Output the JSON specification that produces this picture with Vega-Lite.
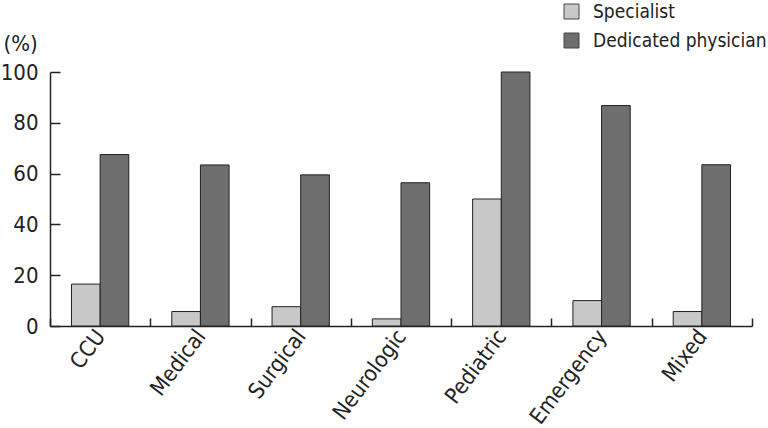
{
  "$schema": "https://vega.github.io/schema/vega-lite/v6.json",
  "width": 702,
  "height": 254,
  "autosize": {"type": "none"},
  "padding": {"left": 50, "top": 72, "right": 16, "bottom": 102},
  "background": "white",
  "config": {
    "view": {"stroke": null},
    "font": "DejaVu Sans Condensed, Roboto, sans-serif",
    "axis": {"domainColor": "#222", "tickColor": "#222", "labelColor": "#222", "titleColor": "#222", "grid": false}
  },
  "data": {
    "values": [
      {"unit": "CCU", "type": "Specialist", "pct": 16.5},
      {"unit": "CCU", "type": "Dedicated physician", "pct": 67.5},
      {"unit": "Medical", "type": "Specialist", "pct": 5.7},
      {"unit": "Medical", "type": "Dedicated physician", "pct": 63.4},
      {"unit": "Surgical", "type": "Specialist", "pct": 7.6},
      {"unit": "Surgical", "type": "Dedicated physician", "pct": 59.5},
      {"unit": "Neurologic", "type": "Specialist", "pct": 2.8},
      {"unit": "Neurologic", "type": "Dedicated physician", "pct": 56.4},
      {"unit": "Pediatric", "type": "Specialist", "pct": 50},
      {"unit": "Pediatric", "type": "Dedicated physician", "pct": 100},
      {"unit": "Emergency", "type": "Specialist", "pct": 10},
      {"unit": "Emergency", "type": "Dedicated physician", "pct": 86.8},
      {"unit": "Mixed", "type": "Specialist", "pct": 5.7},
      {"unit": "Mixed", "type": "Dedicated physician", "pct": 63.5}
    ]
  },
  "mark": {"type": "bar", "stroke": "#222", "strokeWidth": 1},
  "encoding": {
    "x": {
      "field": "unit",
      "type": "nominal",
      "sort": ["CCU", "Medical", "Surgical", "Neurologic", "Pediatric", "Emergency", "Mixed"],
      "scale": {"paddingInner": 0, "paddingOuter": 0},
      "axis": {
        "title": null,
        "labelAngle": -53,
        "labelFontSize": 22,
        "labelPadding": 14,
        "tickBand": "extent",
        "tickSize": -8,
        "tickWidth": 1.5,
        "domainWidth": 1.5
      }
    },
    "xOffset": {
      "field": "type",
      "type": "nominal",
      "sort": ["Specialist", "Dedicated physician"],
      "scale": {"paddingInner": 0, "paddingOuter": 0.75}
    },
    "y": {
      "field": "pct",
      "type": "quantitative",
      "scale": {"domain": [0, 100]},
      "axis": {
        "values": [0, 20, 40, 60, 80, 100],
        "tickSize": -10,
        "tickWidth": 1.5,
        "domainWidth": 1.5,
        "labelFontSize": 22,
        "labelPadding": 22,
        "title": "(%)",
        "titleAngle": 0,
        "titleFontSize": 22,
        "titleFontWeight": "normal",
        "titleAlign": "left",
        "titleBaseline": "middle",
        "titleX": -47,
        "titleY": -29
      }
    },
    "color": {
      "field": "type",
      "type": "nominal",
      "sort": ["Specialist", "Dedicated physician"],
      "scale": {"domain": ["Specialist", "Dedicated physician"], "range": ["#c8c8c8", "#6e6e6e"]},
      "legend": {
        "title": null,
        "orient": "none",
        "legendX": 512,
        "legendY": -70,
        "symbolType": "square",
        "symbolSize": 225,
        "symbolStrokeColor": "#444",
        "symbolStrokeWidth": 1,
        "labelFontSize": 19,
        "labelLimit": 0,
        "labelColor": "#222",
        "labelOffset": 12,
        "rowPadding": 9
      }
    }
  }
}
